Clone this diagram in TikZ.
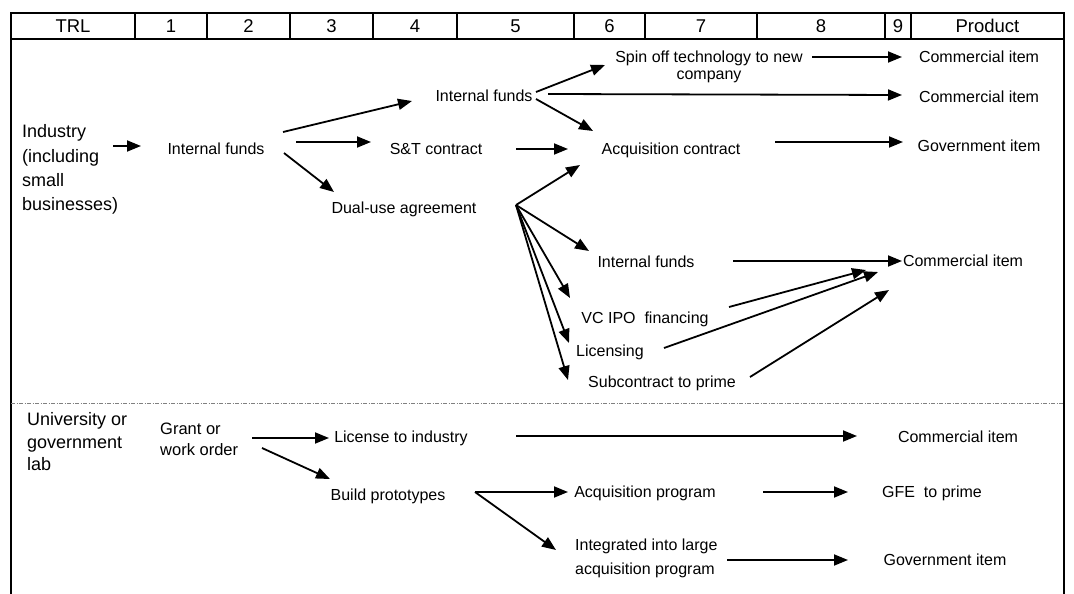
\documentclass[tikz,border=0pt]{standalone}
\usepackage{fontspec}
\setmainfont{Liberation Sans}
\usetikzlibrary{arrows.meta}

\begin{document}
\begin{tikzpicture}[x=1pt,y=-1pt,
  arr/.style={line width=1.8pt,-{Triangle[length=14pt,width=11pt]}},
  lbl/.style={inner sep=0pt,font=\fontsize{16}{17}\selectfont,text height=11.5pt,text depth=0pt},
  hdr/.style={inner sep=0pt,font=\fontsize{18.5}{20}\selectfont,text height=13.2pt,text depth=0pt},
  big/.style={inner sep=0pt,font=\fontsize{18}{24.4}\selectfont,align=left,anchor=north west},
  twoline/.style={inner sep=0pt,font=\fontsize{16}{17}\selectfont},
  rule/.style={line width=1.4pt},
  sep/.style={line width=0.6pt,gray,dash pattern=on 4pt off 1.5pt on 1pt off 1.5pt},
]
\useasboundingbox (0,0) rectangle (1074,594);

% header row of technology readiness levels
\draw[rule] (11,13) rectangle (1064,39);
\foreach \x in {135,207,290,373,457,574,645,757,885,911}
  \draw[rule] (\x,13) -- (\x,39);
\draw[line width=2pt] (11,13) -- (11,594);
\draw[rule] (1064,13) -- (1064,594);
\foreach \x/\t/\n in {73/TRL/h0,171/1/h1,248.5/2/h2,331.5/3/h3,415/4/h4,515.5/5/h5,
                      609.5/6/h6,701/7/h7,821/8/h8,898/9/h9,987.5/Product/h10}
  \node[hdr] (\n) at (\x,26) {\t};

% separator between the two source groups
\draw[sep] (11,403) -- (1064,403);

% ---------- industry paths ----------
\node[big] (ind) at (22,124.5) {Industry\\(including\\small\\businesses)};
\node[lbl] (if1)  at (216,149) {Internal funds};
\node[lbl] (st)   at (436,149) {S\&T contract};
\node[lbl] (dual) at (404,208) {Dual-use agreement};
\node[lbl] (if2)  at (484,96)  {Internal funds};
\node[twoline,align=center,anchor=north] (spin) at (709,51) {Spin off technology to new\\company};
\node[lbl] (acq)  at (671,149) {Acquisition contract};
\node[lbl] (com1) at (979,57)  {Commercial item};
\node[lbl] (com2) at (979,97)  {Commercial item};
\node[lbl] (gov1) at (979,146) {Government item};
\node[lbl] (if3)  at (646,262) {Internal funds};
\node[lbl] (vc)   at (645,318) {VC IPO\ \ financing};
\node[lbl] (lic)  at (610,351) {Licensing};
\node[lbl] (sub)  at (662,382) {Subcontract to prime};
\node[lbl] (com3) at (963,261) {Commercial item};

\draw[arr] ([shift={(91,21.5)}]ind.north west) -- ([shift={(-75,-3)}]if1.center);
\draw[arr] ([shift={(67,-17)}]if1.center) -- ([shift={(-72,5)}]if2.center);
\draw[arr] ([shift={(80,-7)}]if1.center) -- ([shift={(-65,-7)}]st.center);
\draw[arr] ([shift={(68,4)}]if1.center) -- ([shift={(-70,-16)}]dual.center);
\draw[arr] ([shift={(52,-4)}]if2.center) -- ([shift={(-104,14)}]spin.north);
\draw[arr] ([shift={(64,-2)}]if2.center) -- ([shift={(-77,-2)}]com2.center);
\draw[arr] ([shift={(52,3)}]if2.center) -- ([shift={(-78,-18)}]acq.center);
\draw[arr] ([shift={(80,0)}]st.center) -- ([shift={(-103,0)}]acq.center);
\draw[arr] ([shift={(103,6)}]spin.north) -- ([shift={(-77,0)}]com1.center);
\draw[arr] ([shift={(104,-7)}]acq.center) -- ([shift={(-76,-4)}]gov1.center);

\coordinate (fan) at ([shift={(112,-3)}]dual.center);
\draw[arr] (fan) -- ([shift={(-91,16)}]acq.center);
\draw[arr] (fan) -- ([shift={(-57,-11)}]if3.center);
\draw[arr] (fan) -- ([shift={(-75,-20)}]vc.center);
\draw[arr] (fan) -- ([shift={(-41,-8)}]lic.center);
\draw[arr] (fan) -- ([shift={(-94,-2)}]sub.center);

\draw[arr] ([shift={(87,-1)}]if3.center) -- ([shift={(-61,0)}]com3.center);
\draw[arr] ([shift={(84,-11)}]vc.center) -- ([shift={(-97,9)}]com3.center);
\draw[arr] ([shift={(54,-3)}]lic.center) -- ([shift={(-85,11)}]com3.center);
\draw[arr] ([shift={(88,-5)}]sub.center) -- ([shift={(-74,29)}]com3.center);

% ---------- university / government lab paths ----------
\node[big,font=\fontsize{18}{22.5}\selectfont] (uni) at (27,412.5) {University or\\government\\lab};
\node[twoline,align=left,anchor=north west,font=\fontsize{16.5}{21}\selectfont] (grant) at (160,422.5) {Grant or\\work order};
\node[lbl] (lic2)  at (401,437) {License to industry};
\node[lbl] (build) at (388,495) {Build prototypes};
\node[lbl] (com4)  at (958,437) {Commercial item};
\node[lbl] (acqp)  at (645,492) {Acquisition program};
\node[lbl] (gfe)   at (932,492) {GFE\ \ to prime};
\node[twoline,align=left,anchor=north west,font=\fontsize{16}{24}\selectfont] (integ) at (575,539) {Integrated into large\\acquisition program};
\node[lbl] (gov2)  at (945,560) {Government item};

\draw[arr] ([shift={(92,15.5)}]grant.north west) -- ([shift={(-72,1)}]lic2.center);
\draw[arr] ([shift={(102,25.5)}]grant.north west) -- ([shift={(-58,-16)}]build.center);
\draw[arr] ([shift={(115,-1)}]lic2.center) -- ([shift={(-101,-1)}]com4.center);
\draw[arr] ([shift={(87,-3)}]build.center) -- ([shift={(-77,0)}]acqp.center);
\draw[arr] ([shift={(87,-3)}]build.center) -- ([shift={(-19,11)}]integ.north west);
\draw[arr] ([shift={(118,0)}]acqp.center) -- ([shift={(-84,0)}]gfe.center);
\draw[arr] ([shift={(152,21)}]integ.north west) -- ([shift={(-97,0)}]gov2.center);
\end{tikzpicture}
\end{document}
